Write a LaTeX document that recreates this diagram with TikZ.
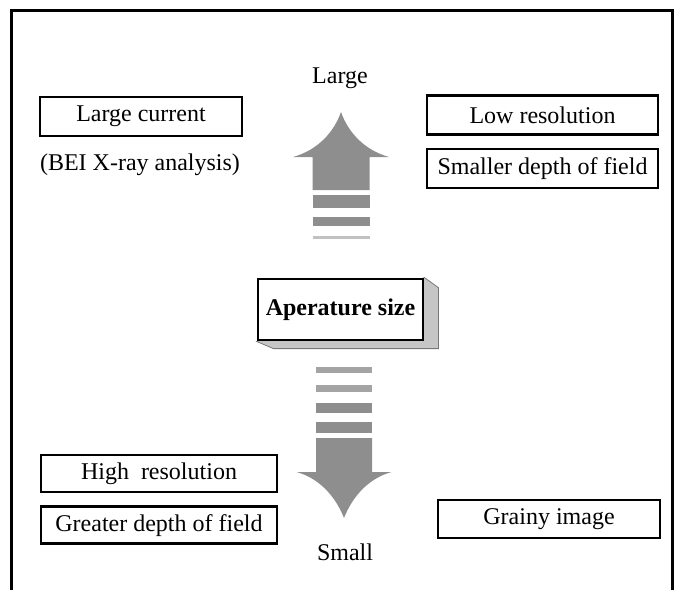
\documentclass[tikz,border=0pt]{standalone}
\usepackage{fontspec}
\setmainfont{Liberation Serif}
\usetikzlibrary{positioning,backgrounds}
\definecolor{arrgray}{HTML}{8E8E8E}
\definecolor{shade}{HTML}{C6C6C6}
\definecolor{dkgray}{HTML}{777777}
\tikzset{
  box/.style={rectangle,draw=black,line width=2.6pt,fill=white,
              minimum width=#1,minimum height=39pt,inner sep=0pt,
              font=\fontsize{24}{28}\selectfont},
  apbox/.style={rectangle,draw=black,line width=2.8pt,fill=white,
                minimum width=165pt,minimum height=61pt,inner sep=0pt,
                font=\fontsize{24}{28}\selectfont\bfseries},
  lbl/.style={font=\fontsize{24}{28}\selectfont,inner sep=0pt,anchor=base},
  frm/.style={line width=3pt,color=black},
}

\begin{document}
\begin{tikzpicture}[x=1pt,y=-1pt]
  \useasboundingbox (0,0) rectangle (682,590);
  \draw[frm] (11,590) -- (11,10) -- (672,10) -- (672,590);

  % top half
  \node[lbl] (large) at (340,83) {Large};
  \node[box=202pt] (lcur) at (141,116.5) {Large current};
  \node[lbl] (bei) at (140,170) {(BEI X-ray analysis)};
  \node[box=231pt] (lowres) at (542.5,115) {Low resolution};
  \node[box=231pt,below=12pt of lowres] (smdep) {Smaller depth of field};

  % centre box with its raised edge
  \node[apbox] (ap) at (340.5,309.5) {Aperature size};
  \begin{scope}[on background layer]
    \filldraw[fill=shade,draw=dkgray,line width=0.8pt]
      (ap.north east) -- ++(14,10) -- ++(0,61) -- ++(-165,0)
      -- (ap.south west) -- cycle;
  \end{scope}

  % arrows
  \fill[arrgray] (312.5,190) -- (312.5,157) -- (293,157)
    .. controls (318,150) and (334,132) .. (341,112)
    .. controls (348,132) and (364,150) .. (389,157)
    -- (369.5,157) -- (369.5,190) -- cycle;
  \foreach \ya/\yb/\c in {195/208/100,217/226/100,236/239/55}
    \fill[arrgray!\c] (312.5,\ya) rectangle (369.5,\yb);

  \foreach \ya/\yb/\c in {367/373/80,385/392/80,403/413/100,422/433/100}
    \fill[arrgray!\c] (316,\ya) rectangle (372,\yb);
  \fill[arrgray] (316,438) -- (372,438) -- (372,472) -- (391.5,472)
    .. controls (366,479) and (351,500) .. (344,518)
    .. controls (337,500) and (322,479) .. (296.5,472)
    -- (316,472) -- cycle;

  % bottom half
  \node[box=236pt,minimum height=37pt] (hires) at (159,473.5) {High\ \ resolution};
  \node[box=236pt,minimum height=37pt,below=12pt of hires] (grdep) {Greater depth of field};
  \node[box=222pt,minimum height=38pt] (grainy) at (549,519) {Grainy image};
  \node[lbl] (small) at (345,560) {Small};
\end{tikzpicture}
\end{document}
